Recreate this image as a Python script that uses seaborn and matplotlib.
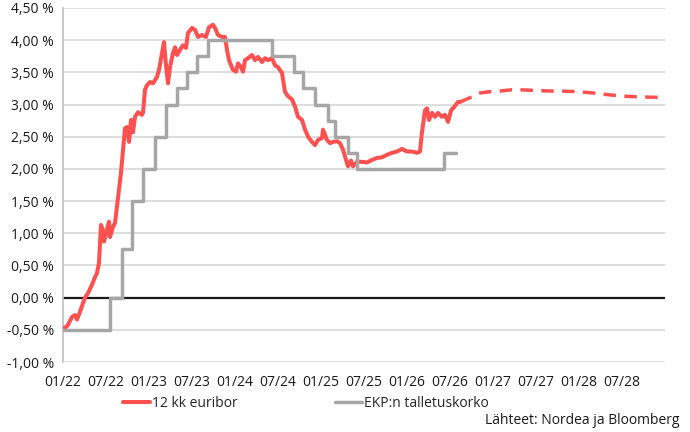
import numpy as np
import pandas as pd
import matplotlib
matplotlib.use("Agg")
import matplotlib.pyplot as plt
import matplotlib.ticker as mticker
import seaborn as sns

# ---- data (x = months since 01/2022) ----
euribor_month = [0.0, 0.42, 0.70, 1.26, 1.67, 1.95, 2.37, 3.07, 3.49, 4.05, 4.47, 4.74,
                 5.02, 5.30, 5.58, 5.72, 6.14, 6.42, 6.56, 6.98, 7.26, 7.67, 8.09, 8.37,
                 8.65, 8.93, 9.21, 9.49, 9.77, 10.05, 10.47, 11.02, 11.16, 11.44, 11.72,
                 12.14, 12.56, 13.12, 13.40, 13.81, 14.09, 14.37, 14.65, 14.93, 15.35,
                 15.63, 15.91, 16.33, 16.74, 17.16, 17.44, 18.00, 18.42, 18.84, 19.40,
                 19.95, 20.37, 20.93, 21.21, 21.63, 22.19, 22.60, 22.88, 23.16, 23.72,
                 24.14, 24.42, 24.84, 25.12, 25.40, 25.81, 26.37, 26.79, 27.21, 27.77,
                 28.19, 28.60, 29.16, 29.58, 30.00, 30.56, 30.97, 31.39, 31.95, 32.37,
                 32.79, 33.35, 33.77, 34.19, 34.74, 35.16, 35.58, 36.14, 36.28, 36.84,
                 37.26, 37.67, 38.23, 38.65, 39.07, 39.49, 39.77, 40.19, 40.47, 41.02,
                 41.72, 42.42, 43.12, 43.81, 44.51, 45.21, 45.91, 46.60, 47.30, 48.00,
                 48.70, 49.40, 49.81, 50.09, 50.51, 50.79, 51.07, 51.49, 51.91, 52.33,
                 52.88, 53.30, 53.72, 54.14, 54.56, 55.12, 55.40]
euribor_value = [-0.47, -0.46, -0.42, -0.30, -0.27, -0.34, -0.22, 0.00, 0.07, 0.20, 0.32, 0.38,
                 0.54, 1.13, 1.05, 0.87, 1.05, 1.18, 0.94, 1.10, 1.16, 1.55, 1.94, 2.29,
                 2.63, 2.65, 2.42, 2.76, 2.57, 2.81, 2.88, 2.84, 2.87, 3.23, 3.30,
                 3.35, 3.33, 3.43, 3.54, 3.80, 3.97, 3.61, 3.33, 3.58, 3.80,
                 3.89, 3.77, 3.85, 3.92, 3.88, 4.11, 4.19, 4.16, 4.05, 4.08,
                 4.05, 4.20, 4.24, 4.19, 4.08, 4.05, 4.05, 3.85, 3.69, 3.54,
                 3.51, 3.64, 3.58, 3.51, 3.69, 3.72, 3.77, 3.69, 3.74, 3.66,
                 3.72, 3.69, 3.72, 3.61, 3.58, 3.49, 3.20, 3.13, 3.08, 2.97,
                 2.81, 2.76, 2.61, 2.50, 2.42, 2.37, 2.45, 2.48, 2.61, 2.45,
                 2.40, 2.42, 2.43, 2.40, 2.30, 2.14, 2.04, 2.13, 2.04, 2.11,
                 2.11, 2.10, 2.14, 2.17, 2.18, 2.22, 2.25, 2.27, 2.31, 2.27,
                 2.27, 2.25, 2.27, 2.57, 2.91, 2.94, 2.76, 2.87, 2.81, 2.87,
                 2.81, 2.84, 2.73, 2.91, 2.96, 3.04, 3.04]

forecast_month = [55.40, 57.07, 58.19, 59.58, 60.98, 62.65, 63.77, 65.58, 67.95,
                  69.35, 71.72, 73.95, 76.33, 78.14, 80.09, 83.58]
forecast_value = [3.04, 3.12, 3.18, 3.20, 3.21, 3.23, 3.23, 3.22, 3.21,
                  3.21, 3.20, 3.18, 3.15, 3.13, 3.12, 3.11]

ecb_month = [0.0, 6.56, 8.23, 9.63, 11.16, 12.84, 14.37, 15.91, 17.30, 18.70, 20.23,
             29.16, 32.23, 33.49, 35.16, 36.98, 37.95, 39.77, 41.02, 53.16, 54.84]
ecb_value = [-0.50, 0.00, 0.75, 1.50, 2.00, 2.50, 3.00, 3.25, 3.50, 3.75, 4.00,
             3.75, 3.50, 3.25, 3.00, 2.75, 2.50, 2.25, 2.00, 2.25, 2.25]

tick_months = list(range(0, 84, 6))
tick_labels = ["01/22", "07/22", "01/23", "07/23", "01/24", "07/24", "01/25",
               "07/25", "01/26", "07/26", "01/27", "07/27", "01/28", "07/28"]

RED = "#FF5050"
GRAY = "#A6A6A6"

sns.set_style("white")
plt.rcParams["font.family"] = ["Open Sans", "DejaVu Sans"]

fig = plt.figure(figsize=(6.9, 4.32), dpi=100)
ax = fig.add_axes([0.0913, 0.162, 0.8725, 0.8195])

df_eur = pd.DataFrame({"month": euribor_month, "value": euribor_value})
df_fc = pd.DataFrame({"month": forecast_month, "value": forecast_value})
df_ecb = pd.DataFrame({"month": ecb_month, "value": ecb_value})

ax.axhline(0, color="#1a1a1a", lw=1.6, zorder=2)

sns.lineplot(data=df_eur, x="month", y="value", ax=ax, color=RED, lw=2.9,
             label="12 kk euribor", zorder=3)
sns.lineplot(data=df_fc, x="month", y="value", ax=ax, color=RED, lw=2.5,
             legend=False, zorder=3).lines[-1].set_dashes([3.6, 2.4])
sns.lineplot(data=df_ecb, x="month", y="value", ax=ax, color=GRAY, lw=2.5,
             drawstyle="steps-post", label="EKP:n talletuskorko", zorder=4)

ax.set_xlim(0, 84)
ax.set_ylim(-1.0, 4.5)
ax.set_yticks(np.arange(-1.0, 4.51, 0.5))
ax.yaxis.set_major_formatter(mticker.FuncFormatter(
    lambda v, p: f"{v:.2f}".replace(".", ",").replace("-0,00", "0,00") + " %"))
ax.set_xticks(tick_months)
ax.set_xticklabels(tick_labels)
ax.set_xlabel("")
ax.set_ylabel("")

ax.yaxis.grid(True, color="#D4D4D4", lw=1.1)
ax.set_axisbelow(True)
for s in ["top", "right", "bottom"]:
    ax.spines[s].set_visible(False)
ax.spines["left"].set_color("#BFBFBF")
ax.spines["left"].set_linewidth(1.2)
ax.tick_params(axis="y", length=3.5, color="#BFBFBF", width=1.1, pad=3, labelsize=10,
               labelcolor="#1a1a1a")
ax.tick_params(axis="x", length=0, pad=9, labelsize=10, labelcolor="#1a1a1a")

handles, labels = ax.get_legend_handles_labels()
ax.get_legend().remove()
fig.legend(handles, labels, loc="center", bbox_to_anchor=(0.443, 0.067), ncol=2,
           frameon=False, fontsize=10, handlelength=2.0, handletextpad=0.1,
           columnspacing=7.0)

fig.text(0.985, 0.027, "Lähteet: Nordea ja Bloomberg", ha="right", va="center",
         fontsize=10, color="#1a1a1a")

plt.savefig("out.png", dpi=100)
plt.close()
